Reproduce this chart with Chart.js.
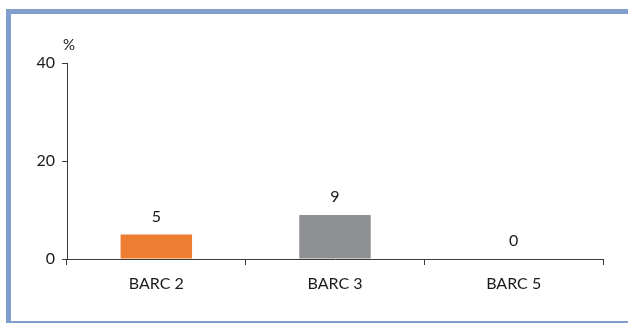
<!DOCTYPE html>
<html>
<head>
<meta charset="utf-8">
<script src="https://cdn.jsdelivr.net/npm/chart.js@4/dist/chart.umd.min.js"></script>
<style>
  html, body { margin: 0; padding: 0; background: #fff; }
  #wrap { position: relative; width: 628px; height: 323px; }
  canvas { display: block; }
</style>
</head>
<body>
<div id="wrap"><canvas id="c" width="628" height="323"></canvas></div>
<script>
// Share of cases by BARC grade (%)
const categories = ['BARC 2', 'BARC 3', 'BARC 5'];
const shares = [5, 9, 0];
const barColors = ['#ED7D31', '#8F9093', '#8F9093'];
const yTicks = [0, 20, 40];

const FONT = 'Lato, "Open Sans", sans-serif';
const FRAME = '#819FCD';
const AXIS = '#3a3a3a';
const TEXT = '#1a1a1a';

// Frame: thick band along the top and left, thin rule at the bottom
const framePlugin = {
  id: 'frame',
  beforeDraw(chart) {
    const ctx = chart.ctx;
    ctx.save();
    ctx.fillStyle = '#fff';
    ctx.fillRect(0, 0, chart.width, chart.height);
    ctx.fillStyle = FRAME;
    ctx.fillRect(6, 9, chart.width - 6, 5);
    ctx.fillRect(6, 9, 5, chart.height - 9);
    ctx.fillRect(6, 321, chart.width - 6, 2);
    ctx.restore();
  }
};

// Unit caption above the value axis and numbers above each bar
const labelPlugin = {
  id: 'valueLabels',
  afterDatasetsDraw(chart) {
    const ctx = chart.ctx;
    const y = chart.scales.y;
    ctx.save();
    ctx.fillStyle = TEXT;
    ctx.textAlign = 'center';
    ctx.textBaseline = 'bottom';
    ctx.font = '15px ' + FONT;
    ctx.fillText('%', y.right + 2, chart.chartArea.top - 10);
    ctx.font = '16px ' + FONT;
    const meta = chart.getDatasetMeta(0);
    meta.data.forEach((bar, i) => {
      ctx.fillText(String(shares[i]), bar.x, bar.y - 10);
    });
    ctx.restore();
  }
};

new Chart(document.getElementById('c'), {
  type: 'bar',
  data: {
    labels: categories,
    datasets: [{
      data: shares,
      backgroundColor: barColors,
      borderWidth: 0,
      categoryPercentage: 1,
      barPercentage: 0.4
    }]
  },
  options: {
    responsive: false,
    animation: false,
    events: [],
    layout: { padding: { top: 63, right: 25, left: 0, bottom: 0 } },
    plugins: { legend: { display: false }, tooltip: { enabled: false } },
    scales: {
      x: {
        grid: { display: true, drawOnChartArea: false, offset: true, tickLength: 6, color: AXIS, lineWidth: 1 },
        border: { display: true, color: AXIS, width: 1 },
        ticks: { color: TEXT, font: { family: FONT, size: 16 }, padding: 9 },
        afterFit(scale) { scale.height = 64; }
      },
      y: {
        min: 0,
        max: 40,
        afterBuildTicks(scale) { scale.ticks = yTicks.map(v => ({ value: v })); },
        grid: { display: true, drawOnChartArea: false, tickLength: 5, color: AXIS, lineWidth: 1 },
        border: { display: true, color: AXIS, width: 1 },
        ticks: { color: TEXT, font: { family: FONT, size: 16 }, padding: 7 },
        afterFit(scale) { scale.width = 67; }
      }
    }
  },
  plugins: [framePlugin, labelPlugin]
});
</script>
</body>
</html>
